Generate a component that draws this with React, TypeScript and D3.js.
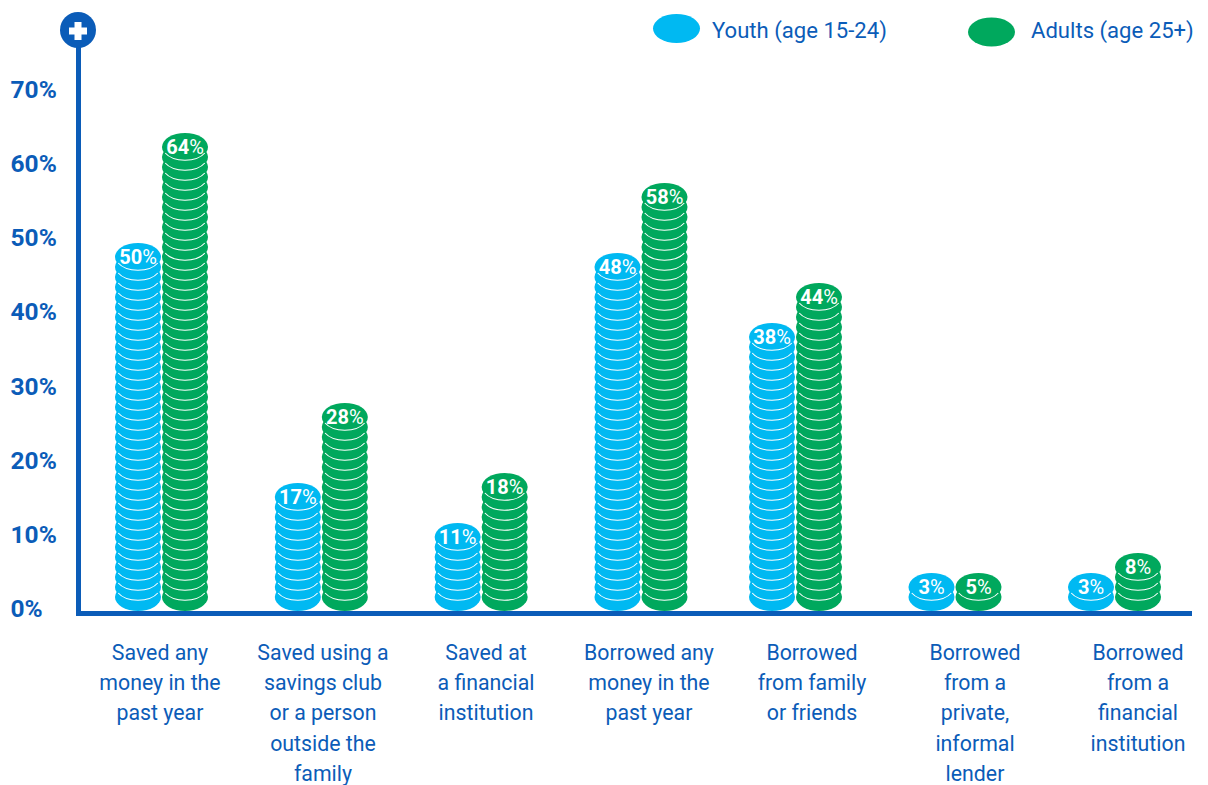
import React from "react";
import * as d3 from "d3";

const categories = [
  ["Saved any", "money in the", "past year"],
  ["Saved using a", "savings club", "or a person", "outside the", "family"],
  ["Saved at", "a financial", "institution"],
  ["Borrowed any", "money in the", "past year"],
  ["Borrowed", "from family", "or friends"],
  ["Borrowed", "from a", "private,", "informal", "lender"],
  ["Borrowed", "from a", "financial", "institution"],
];
const youth = [50, 17, 11, 48, 38, 3, 3];
const adults = [64, 28, 18, 58, 44, 5, 8];
const yTicks = [0, 10, 20, 30, 40, 50, 60, 70];

const BLUE = "#0b5cb8";
const CYAN = "#00b9f2";
const GREEN = "#00a85d";
const FONT = "Roboto, 'Liberation Sans', sans-serif";

const y = d3.scaleLinear().domain([0, 70]).range([609, 90]);
// The savings and borrowing groups sit at slightly different pitches.
const groupX = d3.scaleLinear().domain([0, 3, 4, 6]).range([161.5, 641, 795.5, 1114.5]);
const labelX = d3.scalePoint<number>().domain(d3.range(categories.length)).range([160, 1138]);

const COIN_RX = 23;
const COIN_RY = 14;
const STEP = 10;
const STACK_BOTTOM = 611;

// Whole coins needed so that the top of the stack reaches the value on the axis.
function coinCount(value: number) {
  const n = Math.round((STACK_BOTTOM - 2 * COIN_RY - y(value)) / STEP) + 1;
  return Math.max(2, n);
}

function Stack({ cx, value, color }: { cx: number; value: number; color: string }) {
  const n = coinCount(value);
  const centers = d3.range(n).map((i) => STACK_BOTTOM - COIN_RY - i * STEP);
  const topY = centers[n - 1];
  // Inset rim along the lower edge of a coin.
  const rim = (cy: number) => {
    const rx = COIN_RX - 0.8;
    const ry = COIN_RY - 0.8;
    const dy = 6;
    const dx = rx * Math.sqrt(1 - (dy * dy) / (ry * ry));
    return `M${cx - dx},${cy + dy} A${rx},${ry} 0 0 0 ${cx + dx},${cy + dy}`;
  };
  return (
    <g>
      {centers.map((cy, i) => (
        <g key={i}>
          <ellipse cx={cx} cy={cy} rx={COIN_RX} ry={COIN_RY} fill={color} />
          {i > 0 && <path d={rim(cy)} fill="none" stroke="#fff" strokeWidth={1.1} />}
        </g>
      ))}
      <text
        x={cx}
        y={topY + 6.5}
        textAnchor="middle"
        fill="#fff"
        fontFamily={FONT}
        fontSize={20}
        fontWeight={700}
      >
        {value}
        <tspan fontWeight={400}>%</tspan>
      </text>
    </g>
  );
}

export default function App() {
  return (
    <svg
      width={1208}
      height={785}
      viewBox="0 0 1208 785"
      style={{ position: "absolute", left: 0, top: 0, background: "#fff" }}
    >
      {/* Legend */}
      <ellipse cx={676.5} cy={28.5} rx={23.5} ry={14.5} fill={CYAN} />
      <text x={712} y={38} fill={BLUE} fontFamily={FONT} fontSize={22.1}>Youth (age 15-24)</text>
      <ellipse cx={991.5} cy={32} rx={23.5} ry={14.5} fill={GREEN} />
      <text x={1031} y={38} fill={BLUE} fontFamily={FONT} fontSize={22.1}>Adults (age 25+)</text>

      {/* Axes */}
      <rect x={76} y={30} width={5} height={585} fill={BLUE} />
      <rect x={76} y={611} width={1116} height={5} fill={BLUE} />
      <circle cx={78} cy={30} r={18} fill={BLUE} />
      <path d="M74.5,22h7v5.5h5.5v7h-5.5v5.5h-7v-5.5h-5.5v-7h5.5z" fill="#fff" />

      {yTicks.map((t) => (
        <text
          key={t}
          x={10.5}
          y={y(t) + 8}
          fill={BLUE}
          fontFamily={FONT}
          fontSize={24.5}
          fontWeight={700}
        >
          {t}%
        </text>
      ))}

      {/* Coin stacks */}
      {categories.map((_, i) => (
        <g key={i}>
          <Stack cx={groupX(i) - 23.5} value={youth[i]} color={CYAN} />
          <Stack cx={groupX(i) + 23.5} value={adults[i]} color={GREEN} />
        </g>
      ))}

      {/* Category labels */}
      {categories.map((lines, i) => (
        <text
          key={i}
          textAnchor="middle"
          fill={BLUE}
          fontFamily={FONT}
          fontSize={21.3}
        >
          {lines.map((line, j) => (
            <tspan key={j} x={labelX(i)} y={660 + j * 30.2}>{line}</tspan>
          ))}
        </text>
      ))}
    </svg>
  );
}
